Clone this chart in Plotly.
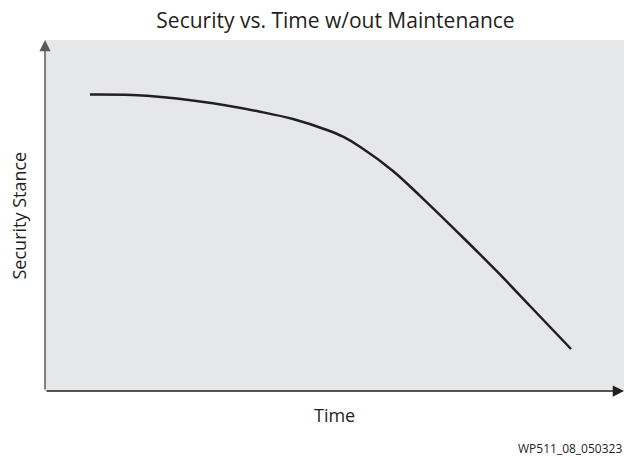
import plotly.graph_objects as go

# Data (axes are 0-100 arbitrary units)
time_vals = [7.77, 17.62, 29.02, 37.13, 42.83, 48.70, 51.47, 54.40, 60.10, 64.77,
             72.19, 78.07, 83.77, 90.85]
security_vals = [84.47, 84.13, 81.97, 79.57, 77.49, 74.36, 72.45, 69.60, 62.70, 55.60,
                 43.73, 34.05, 24.22, 11.97]

title_text = "Security vs. Time w/out Maintenance"
x_title = "Time"
y_title = "Security Stance"
footnote = "WP511_08_050323"

FONT = "Open Sans, Noto Sans, sans-serif"

fig = go.Figure()
fig.add_trace(go.Scatter(
    x=time_vals, y=security_vals, mode="lines",
    line=dict(color="#231f20", width=2.5, shape="spline", smoothing=1.0),
    hoverinfo="skip", showlegend=False,
))

# Axis arrows
fig.add_annotation(x=100, y=0, ax=0, ay=0, xref="x", yref="y", axref="x", ayref="y",
                   showarrow=True, arrowhead=2, arrowsize=1.5, arrowwidth=1.5,
                   arrowcolor="#231f20", text="")
fig.add_annotation(x=0, y=100, ax=0, ay=0, xref="x", yref="y", axref="x", ayref="y",
                   showarrow=True, arrowhead=2, arrowsize=1.5, arrowwidth=1.5,
                   arrowcolor="#58595b", text="")

# Axis titles and footnote
fig.add_annotation(x=0.5, y=0, xref="paper", yref="paper", yshift=-24, yanchor="middle",
                   text=x_title, showarrow=False, font=dict(family=FONT, size=18, color="#231f20"))
fig.add_annotation(x=0, y=0.5, xref="paper", yref="paper", xshift=-27, xanchor="center",
                   text=y_title, textangle=-90, showarrow=False,
                   font=dict(family=FONT, size=18, color="#231f20"))
fig.add_annotation(x=1, y=0, xref="paper", yref="paper", yshift=-57, xanchor="right",
                   yanchor="middle", text=footnote, showarrow=False,
                   font=dict(family=FONT, size=12, color="#231f20"))

fig.update_layout(
    width=624, height=457,
    margin=dict(l=45, r=0, t=40, b=66),
    paper_bgcolor="white", plot_bgcolor="#e6e7e8",
    title=dict(text=title_text, x=335.5 / 624, xanchor="center",
               y=1 - 21 / 457, yanchor="middle", yref="container",
               font=dict(family=FONT, size=21, color="#231f20")),
    xaxis=dict(range=[0, 100], showgrid=False, zeroline=False, showticklabels=False,
               ticks="", showline=False, fixedrange=True),
    yaxis=dict(range=[0, 100], showgrid=False, zeroline=False, showticklabels=False,
               ticks="", showline=False, fixedrange=True),
)

fig.write_html("out.html", config={"displayModeBar": False},
               post_script="document.body.style.margin='0';document.body.style.overflow='hidden';")
